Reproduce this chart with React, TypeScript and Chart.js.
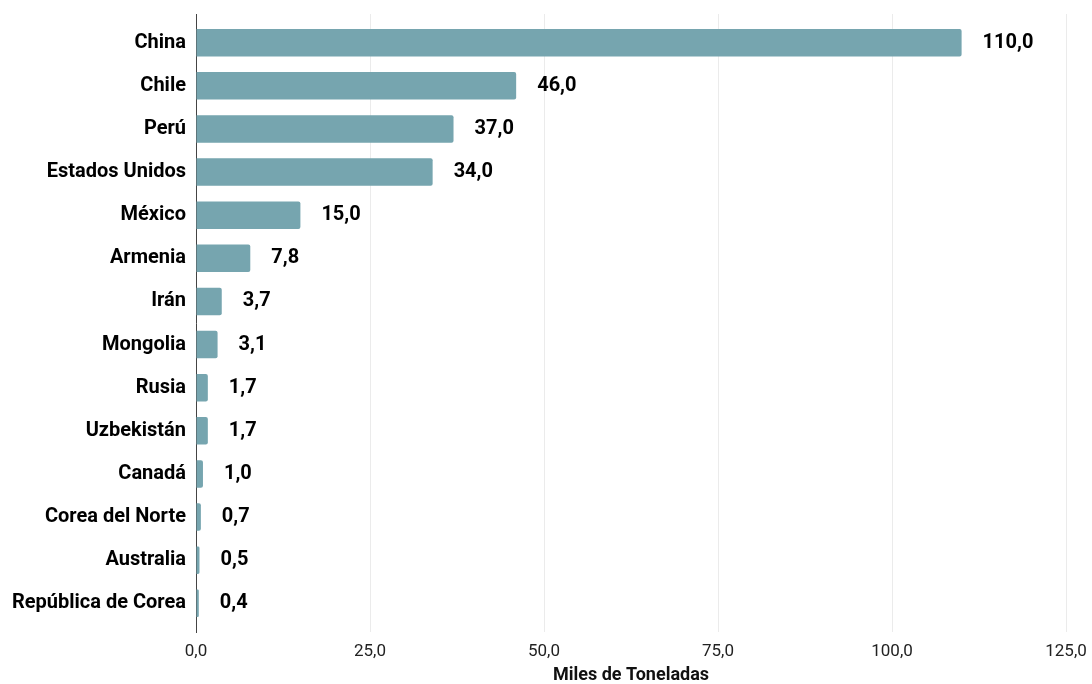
import React, { useEffect, useRef } from "react";
import { Chart, registerables } from "chart.js";

Chart.register(...registerables);

const categories = [
  "China",
  "Chile",
  "Perú",
  "Estados Unidos",
  "México",
  "Armenia",
  "Irán",
  "Mongolia",
  "Rusia",
  "Uzbekistán",
  "Canadá",
  "Corea del Norte",
  "Australia",
  "República de Corea",
];
const values = [110, 46, 37, 34, 15, 7.8, 3.7, 3.1, 1.7, 1.7, 1.0, 0.7, 0.5, 0.4];
const xMin = 0;
const xMax = 125;
const xStep = 25;
const axisTitle = "Miles de Toneladas";

const fmt = (v: number) => v.toFixed(1).replace(".", ",");

const FONT = "Roboto";

const valueLabels = {
  id: "valueLabels",
  afterDatasetsDraw(chart: any) {
    const ctx = chart.ctx;
    const meta = chart.getDatasetMeta(0);
    ctx.save();
    ctx.font = `bold 20px ${FONT}`;
    ctx.fillStyle = "#000000";
    ctx.textAlign = "left";
    ctx.textBaseline = "middle";
    meta.data.forEach((el: any, i: number) => {
      ctx.fillText(fmt(values[i]), el.x + 21, el.y);
    });
    ctx.restore();
  },
};

export default function App() {
  const ref = useRef<HTMLCanvasElement | null>(null);
  useEffect(() => {
    document.body.style.margin = "0";
    if (!ref.current) return;
    const chart = new Chart(ref.current, {
      type: "bar",
      data: {
        datasets: [
          {
            data: values.map((v, i) => ({ x: v, y: i })),
            backgroundColor: "#76A5AF",
            borderRadius: 2,
            borderSkipped: "start",
            categoryPercentage: 1,
            barPercentage: 0.64,
          },
        ],
      },
      options: {
        indexAxis: "y",
        animation: false,
        responsive: true,
        maintainAspectRatio: false,
        layout: { padding: { top: 14, right: 26, left: 0, bottom: 0 } },
        plugins: {
          legend: { display: false },
          tooltip: { enabled: false },
        },
        scales: {
          x: {
            type: "linear",
            position: "bottom",
            min: xMin,
            max: xMax,
            ticks: {
              stepSize: xStep,
              padding: 10,
              color: "#222222",
              font: { family: FONT, size: 17 },
              callback: (v: any) => fmt(Number(v)),
            },
            grid: { color: "#ebebeb", drawTicks: false, lineWidth: 1 },
            border: { display: false },
            title: {
              display: true,
              text: axisTitle,
              color: "#111111",
              font: { family: FONT, size: 18, weight: "bold", lineHeight: 1 },
              padding: { top: 0, bottom: 0 },
            },
            afterFit: (scale: any) => {
              scale.height = 52;
              scale.paddingLeft = 0;
              scale.paddingRight = 0;
            },
          },
          y: {
            type: "linear",
            reverse: true,
            offset: false,
            min: -0.665,
            max: 13.665,
            ticks: {
              stepSize: 1,
              includeBounds: false,
              autoSkip: false,
              padding: 10,
              color: "#000000",
              font: { family: FONT, size: 20, weight: "bold" },
              callback: (v: any) => {
                const n = Number(v);
                return Number.isInteger(n) && categories[n] !== undefined ? categories[n] : "";
              },
            },
            grid: { display: false, drawTicks: false, offset: false },
            border: { display: true, color: "#444444", width: 1 },
            afterFit: (scale: any) => {
              scale.width = 196;
              scale.paddingTop = 0;
              scale.paddingBottom = 0;
            },
          },
        },
      },
      plugins: [valueLabels],
    } as any);
    return () => chart.destroy();
  }, []);
  return (
    <div style={{ width: 1092, height: 684, position: "relative" }}>
      <canvas ref={ref} />
    </div>
  );
}
